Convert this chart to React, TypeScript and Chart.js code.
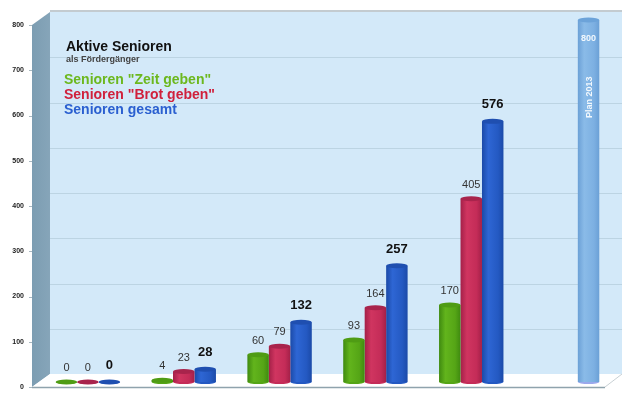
import React, { useEffect, useRef } from "react";
import { Chart, registerables } from "chart.js";

Chart.register(...registerables);

const categories = ["2008", "2009", "2010", "2011", "2012", "Plan"];
const zeitGeben = [0, 4, 60, 93, 170, null];
const brotGeben = [0, 23, 79, 164, 405, null];
const gesamt = [0, 28, 132, 257, 576, 800];
const yTicks = [0, 100, 200, 300, 400, 500, 600, 700, 800];
const legendRows = [
  { text: 'Senioren "Zeit geben"', color: "#6cb81e" },
  { text: 'Senioren "Brot geben"', color: "#d0203c" },
  { text: "Senioren gesamt", color: "#2a5fd0" },
];

const FONT = "'Liberation Sans', Arial, sans-serif";
const DEPTH_X = 18;
const DEPTH_Y = 13;
const BAR_LIFT = 5;
const CATEGORY_FILL = 0.672;

type Shade = { dark: string; mid: string; light: string; cap: string };
const shades: Shade[] = [
  { dark: "#3f8a10", mid: "#62b41c", light: "#55a516", cap: "#4f9c14" },
  { dark: "#a42048", mid: "#d03560", light: "#c42c58", cap: "#a8244c" },
  { dark: "#1b4aa8", mid: "#2e66d4", light: "#2459c2", cap: "#1f4fb0" },
];
const planShade: Shade = { dark: "#6ba0d6", mid: "#8abbe8", light: "#7db0e2", cap: "#6ca3d9" };

const shadeOf = (ds: number, idx: number) => (ds === 2 && idx === 5 ? planShade : shades[ds]);

// Horizontal gradient that gives each bar its rounded, cylindrical look.
const cylinderFill = (ctx: any) => {
  const xScale = ctx.chart.scales.x;
  const s = shadeOf(ctx.datasetIndex, ctx.dataIndex);
  if (!xScale || ctx.dataIndex === undefined) return s.mid;
  const barWidth = ((xScale.width / categories.length) * CATEGORY_FILL) / 3;
  const cx = xScale.getPixelForValue(ctx.dataIndex) + (ctx.datasetIndex - 1) * barWidth;
  if (!Number.isFinite(cx) || !Number.isFinite(barWidth) || barWidth <= 0) return s.mid;
  const g = ctx.chart.ctx.createLinearGradient(cx - barWidth / 2, 0, cx + barWidth / 2, 0);
  g.addColorStop(0, s.dark);
  g.addColorStop(0.3, s.mid);
  g.addColorStop(0.75, s.light);
  g.addColorStop(1, s.dark);
  return g;
};

// Side wall, back wall and floor behind the bars.
const roomPlugin = {
  id: "room",
  beforeDatasetsDraw(chart: any) {
    const { ctx, width, scales } = chart;
    const y = scales.y;
    const top = y.getPixelForValue(800);
    const base = y.getPixelForValue(0);
    const frontX = 32;
    const backX = frontX + DEPTH_X;
    ctx.save();

    ctx.fillStyle = "#d3e9f9";
    ctx.fillRect(backX, top - DEPTH_Y, width - backX, base - top);
    ctx.fillStyle = "#c3cbd0";
    ctx.fillRect(backX, top - DEPTH_Y - 2, width - backX, 2);

    ctx.strokeStyle = "#bcd4e3";
    ctx.lineWidth = 1;
    yTicks.slice(1, -1).forEach((v) => {
      const py = Math.round(y.getPixelForValue(v) - DEPTH_Y) + 0.5;
      ctx.beginPath();
      ctx.moveTo(backX, py);
      ctx.lineTo(width, py);
      ctx.stroke();
    });

    const wall = ctx.createLinearGradient(frontX, 0, backX, 0);
    wall.addColorStop(0, "#7c9db2");
    wall.addColorStop(1, "#86a5b9");
    ctx.fillStyle = wall;
    ctx.beginPath();
    ctx.moveTo(frontX, top);
    ctx.lineTo(backX, top - DEPTH_Y);
    ctx.lineTo(backX, base - DEPTH_Y);
    ctx.lineTo(frontX, base);
    ctx.closePath();
    ctx.fill();

    ctx.fillStyle = "#ffffff";
    ctx.beginPath();
    ctx.moveTo(frontX, base);
    ctx.lineTo(backX, base - DEPTH_Y);
    ctx.lineTo(width, base - DEPTH_Y);
    ctx.lineTo(605, base);
    ctx.closePath();
    ctx.fill();

    ctx.strokeStyle = "#8fa3ad";
    ctx.lineWidth = 1.5;
    ctx.beginPath();
    ctx.moveTo(frontX, base + 0.5);
    ctx.lineTo(605, base + 0.5);
    ctx.stroke();
    ctx.strokeStyle = "#c8d0d4";
    ctx.lineWidth = 1;
    ctx.beginPath();
    ctx.moveTo(605, base);
    ctx.lineTo(width, base - DEPTH_Y);
    ctx.stroke();

    ctx.strokeStyle = "#a9b8c0";
    yTicks.forEach((v) => {
      const py = Math.round(y.getPixelForValue(v)) + 0.5;
      ctx.beginPath();
      ctx.moveTo(29, py);
      ctx.lineTo(frontX, py);
      ctx.stroke();
    });

    ctx.restore();
    // Bars stand mid-way into the floor, so lift them slightly off the front edge.
    ctx.save();
    ctx.translate(0, -BAR_LIFT);
  },
  afterDatasetsDraw(chart: any) {
    const { ctx } = chart;
    chart.data.datasets.forEach((_: any, ds: number) => {
      chart.getDatasetMeta(ds).data.forEach((bar: any, idx: number) => {
        const value = chart.data.datasets[ds].data[idx];
        if (value === null) return;
        const s = shadeOf(ds, idx);
        const w = bar.width;
        ctx.fillStyle = idx === 5 ? "#9aa8ec" : s.light;
        ctx.beginPath();
        ctx.ellipse(bar.x, bar.base, w / 2, 2, 0, 0, Math.PI);
        ctx.fill();
        ctx.fillStyle = s.cap;
        ctx.beginPath();
        ctx.ellipse(bar.x, bar.y, w / 2, 2.5, 0, 0, Math.PI * 2);
        ctx.fill();
      });
    });
    ctx.restore();
  },
};

// Value labels above the bars, plus the heading and colour key inside the room.
const annotationPlugin = {
  id: "annotations",
  afterDraw(chart: any) {
    const { ctx } = chart;
    ctx.save();
    ctx.textAlign = "center";
    ctx.textBaseline = "alphabetic";
    chart.data.datasets.forEach((dataset: any, ds: number) => {
      chart.getDatasetMeta(ds).data.forEach((bar: any, idx: number) => {
        const value = dataset.data[idx];
        if (value === null || idx === 5) return;
        const total = ds === 2;
        ctx.fillStyle = total ? "#111111" : "#333333";
        ctx.font = total ? `bold 13px ${FONT}` : `11px ${FONT}`;
        ctx.fillText(String(value), bar.x, bar.y - BAR_LIFT - (total ? 13 : 11));
      });
    });

    const plan = chart.getDatasetMeta(2).data[5];
    ctx.fillStyle = "#f2f8fd";
    ctx.font = `bold 9px ${FONT}`;
    ctx.fillText("800", plan.x, 41);
    ctx.save();
    ctx.translate(plan.x + 3, 118);
    ctx.rotate(-Math.PI / 2);
    ctx.textAlign = "left";
    ctx.fillText("Plan 2013", 0, 0);
    ctx.restore();

    ctx.textAlign = "left";
    ctx.fillStyle = "#111111";
    ctx.font = `bold 14px ${FONT}`;
    ctx.fillText("Aktive Senioren", 66, 51);
    ctx.fillStyle = "#444444";
    ctx.font = `bold 9px ${FONT}`;
    ctx.fillText("als Fördergänger", 66, 62);
    ctx.font = `bold 14px ${FONT}`;
    legendRows.forEach((row, i) => {
      ctx.fillStyle = row.color;
      ctx.fillText(row.text, 64, 84 + i * 15);
    });
    ctx.restore();
  },
};

export default function App() {
  const ref = useRef<HTMLCanvasElement>(null);

  useEffect(() => {
    const dataset = (label: string, data: (number | null)[]) => ({
      label,
      data,
      backgroundColor: cylinderFill,
      borderWidth: 0,
      barPercentage: 1,
      categoryPercentage: CATEGORY_FILL,
    });
    const chart = new Chart(ref.current!, {
      type: "bar",
      data: {
        labels: categories,
        datasets: [
          dataset("Senioren Zeit geben", zeitGeben),
          dataset("Senioren Brot geben", brotGeben),
          dataset("Senioren gesamt", gesamt),
        ],
      },
      plugins: [roomPlugin, annotationPlugin],
      options: {
        responsive: false,
        animation: false,
        events: [],
        layout: { padding: { top: 25, right: 7, bottom: 7, left: 0 } },
        plugins: { legend: { display: false }, title: { display: false }, tooltip: { enabled: false } },
        scales: {
          x: { display: false },
          y: {
            min: 0,
            max: 800,
            afterFit: (scale: any) => {
              scale.width = 40;
            },
            afterBuildTicks: (scale: any) => {
              scale.ticks = yTicks.map((value) => ({ value }));
            },
            // The tick length stands in for the gap between labels and the side wall.
            grid: { display: false, drawTicks: true, tickLength: 15 },
            border: { display: false },
            ticks: {
              padding: 1,
              color: "#222222",
              font: { family: FONT, size: 7, weight: "bold" },
            },
          },
        },
      },
    } as any);
    return () => chart.destroy();
  }, []);

  return (
    <div style={{ position: "fixed", left: 0, top: 0, width: 622, height: 394, background: "#fff" }}>
      <canvas ref={ref} width={622} height={394} style={{ display: "block" }} />
    </div>
  );
}
